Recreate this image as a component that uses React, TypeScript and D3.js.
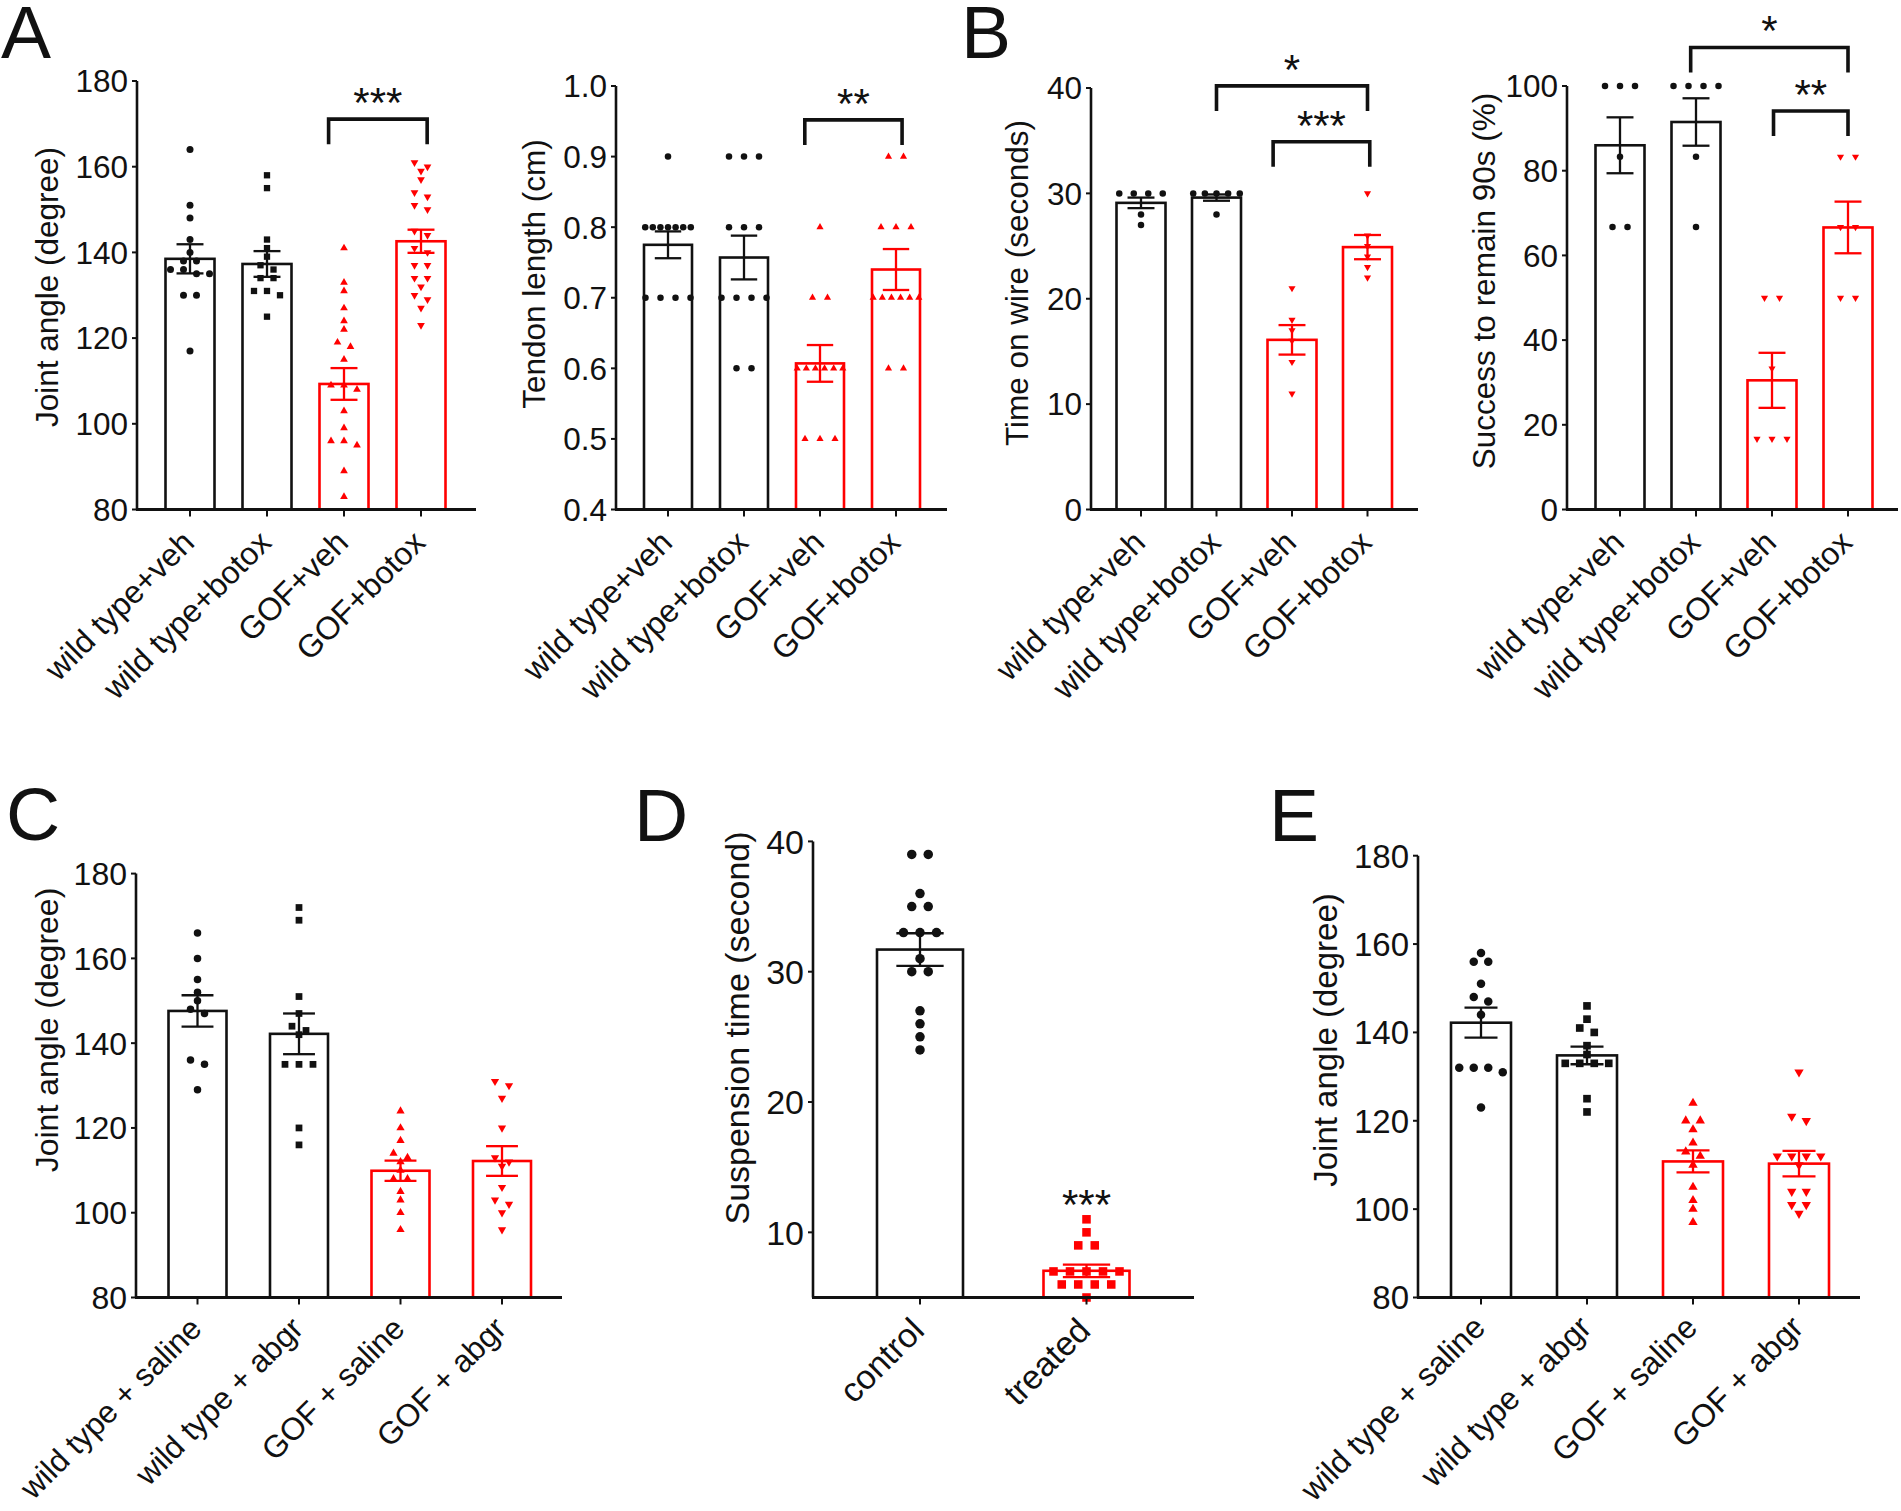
import React from "react";
import * as d3 from "d3";

// ---------------- data ----------------
const catsBotox = ["wild type+veh", "wild type+botox", "GOF+veh", "GOF+botox"];
const catsAbgr = ["wild type + saline", "wild type + abgr", "GOF + saline", "GOF + abgr"];
const catsD = ["control", "treated"];

const ticksAngle = [80, 100, 120, 140, 160, 180];
const ticksTendon = [0.4, 0.5, 0.6, 0.7, 0.8, 0.9, 1.0];
const ticksWire = [0, 10, 20, 30, 40];
const ticksSuccess = [0, 20, 40, 60, 80, 100];
const ticksSusp = [10, 20, 30, 40];

// Panel A – joint angle
const a1Points = [
  [164, 151, 148, 143, 140, 138, 138, 136, 136, 135, 135, 130, 130, 117],
  [158, 155, 143, 141, 139, 137, 136, 134, 134, 131, 131, 130, 125],
  [141, 133, 131, 127, 124, 122, 119, 118, 115, 109, 109, 108, 103, 99, 96, 96, 95, 89, 83],
  [161, 160, 159, 157, 154, 153, 151, 150, 145, 144, 141, 140, 137, 137, 134, 134, 132, 130, 129, 127, 123],
];
const a1Means = [138.5, 137.3, 109.3, 142.6];
const a1Sems = [3.4, 3.0, 3.7, 2.7];
const a1Sig = [{ from: 1.8, to: 3.08, level: 171.1, label: "***" }];

// Panel A – tendon length
const a2Points = [
  [0.9, 0.8, 0.8, 0.8, 0.8, 0.8, 0.8, 0.8, 0.7, 0.7, 0.7, 0.7],
  [0.9, 0.9, 0.9, 0.8, 0.8, 0.8, 0.7, 0.7, 0.7, 0.7, 0.6, 0.6],
  [0.8, 0.7, 0.7, 0.6, 0.6, 0.6, 0.6, 0.6, 0.6, 0.5, 0.5, 0.5],
  [0.9, 0.9, 0.8, 0.8, 0.8, 0.7, 0.7, 0.7, 0.7, 0.7, 0.7, 0.6, 0.6],
];
const a2Means = [0.775, 0.757, 0.607, 0.740];
const a2Sems = [0.019, 0.031, 0.026, 0.029];
const a2Sig = [{ from: 1.8, to: 3.08, level: 0.952, label: "**" }];

// Panel B – time on wire
const b1Points = [
  [30, 30, 30, 30, 28, 27],
  [30, 30, 30, 30, 30, 28],
  [21, 18, 17, 16, 14, 11],
  [30, 26, 25, 24, 23, 22],
];
const b1Means = [29.1, 29.6, 16.1, 24.9];
const b1Sems = [0.5, 0.3, 1.4, 1.15];
const b1Sig = [
  { from: 1, to: 3.0, level: 40.2, label: "*" },
  { from: 1.75, to: 3.03, level: 34.9, label: "***" },
];

// Panel B – success to remain 90 s
const b2Points = [
  [100, 100, 100, 83.3, 66.7, 66.7],
  [100, 100, 100, 100, 83.3, 66.7],
  [50, 50, 33.3, 16.7, 16.7, 16.7],
  [83.3, 83.3, 66.7, 66.7, 50, 50],
];
const b2Means = [86.0, 91.5, 30.5, 66.6];
const b2Sems = [6.6, 5.6, 6.5, 6.1];
const b2Sig = [
  { from: 0.93, to: 3.0, level: 109.1, label: "*" },
  { from: 2.02, to: 3.0, level: 94.1, label: "**" },
];

// Panel C
const cPoints = [
  [166, 160, 155, 152, 150, 148, 147, 136, 135, 129],
  [172, 169, 151, 147, 144, 143, 142, 135, 135, 135, 120, 116],
  [124, 120, 117, 114, 113, 112, 110, 108, 108, 105, 103, 100, 96],
  [131, 130, 127, 120, 113, 112, 111, 106, 103, 102, 100, 96],
];
const cMeans = [147.6, 142.2, 109.9, 112.2];
const cSems = [3.7, 4.8, 2.4, 3.5];

// Panel D
const dPoints = [
  [39, 39, 36, 35, 35, 33, 33, 33, 31, 30, 30, 27, 26, 25, 24],
  [11, 10, 9, 9, 7, 7, 7, 7, 7, 6, 6, 6, 6, 5],
];
const dMeans = [31.7, 7.05];
const dSems = [1.25, 0.48];
const dSig = [{ from: 1, to: 1, level: 10.85, label: "***" }];

// Panel E
const ePoints = [
  [158, 156, 156, 151, 148, 147, 144, 132, 132, 132, 131, 123],
  [146, 143, 141, 140, 137, 135, 133, 133, 133, 133, 125, 122],
  [124, 120, 120, 118, 115, 113, 112, 110, 105, 102, 100, 97],
  [131, 121, 120, 112, 112, 112, 112, 110, 104, 104, 101, 101, 99],
];
const eMeans = [142.2, 134.8, 110.8, 110.3];
const eSems = [3.4, 2.0, 2.5, 2.9];

// ---------------- styles ----------------
const BLACK = "#111";
const RED = "#ff0000";
const FONT = "'Liberation Sans', Arial, Helvetica, sans-serif";

type Shape = "circle" | "square" | "up" | "down";
type Sig = { from: number; to: number; level: number; label: string };

interface PanelCfg {
  letter?: string;
  letterX?: number;
  letterY?: number;
  cats: string[];
  points: number[][];
  means: number[];
  sems: number[];
  sig: Sig[];
  shapes: Shape[];
  colors: string[];
  domain: [number, number];
  ticks: number[];
  fmt: (v: number) => string;
  title: string;
  titleX: number;
  titleY: number;
  x0: number;
  x1: number;
  c0: number;
  step: number;
  barW: number;
  yTop: number;
  yBot: number;
  fs: number;
  labelFs: number;
  labelDy: number;
  marker: number;
  spacing: number;
}

const fmtInt = (v: number) => d3.format("d")(v);
const fmt1 = (v: number) => d3.format(".1f")(v);
const colors4 = [BLACK, BLACK, RED, RED];

const panels: PanelCfg[] = [
  {
    letter: "A", letterX: 1, letterY: 58,
    cats: catsBotox, points: a1Points, means: a1Means, sems: a1Sems, sig: a1Sig,
    shapes: ["circle", "square", "up", "down"], colors: colors4,
    domain: [80, 180], ticks: ticksAngle, fmt: fmtInt,
    title: "Joint angle (degree)", titleX: 50, titleY: 287,
    x0: 137, x1: 476, c0: 190, step: 77, barW: 49, yTop: 81, yBot: 509.5,
    fs: 31.5, labelFs: 32, labelDy: 35, marker: 7, spacing: 13,
  },
  {
    cats: catsBotox, points: a2Points, means: a2Means, sems: a2Sems, sig: a2Sig,
    shapes: ["circle", "circle", "up", "up"], colors: colors4,
    domain: [0.4, 1.0], ticks: ticksTendon, fmt: fmt1,
    title: "Tendon length (cm)", titleX: 537, titleY: 274,
    x0: 616, x1: 947, c0: 668, step: 76, barW: 48, yTop: 86, yBot: 509.5,
    fs: 31.5, labelFs: 32, labelDy: 35, marker: 6.5, spacing: 15,
  },
  {
    letter: "B", letterX: 961, letterY: 58,
    cats: catsBotox, points: b1Points, means: b1Means, sems: b1Sems, sig: b1Sig,
    shapes: ["circle", "circle", "down", "down"], colors: colors4,
    domain: [0, 40], ticks: ticksWire, fmt: fmtInt,
    title: "Time on wire (seconds)", titleX: 1020, titleY: 283,
    x0: 1091, x1: 1418, c0: 1141, step: 75.5, barW: 49, yTop: 88, yBot: 509.5,
    fs: 31.5, labelFs: 32, labelDy: 35, marker: 6.5, spacing: 14.5,
  },
  {
    cats: catsBotox, points: b2Points, means: b2Means, sems: b2Sems, sig: b2Sig,
    shapes: ["circle", "circle", "down", "down"], colors: colors4,
    domain: [0, 100], ticks: ticksSuccess, fmt: fmtInt,
    title: "Success to remain 90s (%)", titleX: 1487, titleY: 281,
    x0: 1567, x1: 1898, c0: 1620, step: 76, barW: 49, yTop: 86, yBot: 509.5,
    fs: 31.5, labelFs: 32, labelDy: 35, marker: 6.5, spacing: 15,
  },
  {
    letter: "C", letterX: 6, letterY: 840,
    cats: catsAbgr, points: cPoints, means: cMeans, sems: cSems, sig: [],
    shapes: ["circle", "square", "up", "down"], colors: colors4,
    domain: [80, 180], ticks: ticksAngle, fmt: fmtInt,
    title: "Joint angle (degree)", titleX: 50, titleY: 1030,
    x0: 136, x1: 562, c0: 197.5, step: 101.5, barW: 58, yTop: 873.6, yBot: 1297.5,
    fs: 32, labelFs: 31.5, labelDy: 33, marker: 7.5, spacing: 14,
  },
  {
    letter: "D", letterX: 634, letterY: 841,
    cats: catsD, points: dPoints, means: dMeans, sems: dSems, sig: dSig,
    shapes: ["circle", "square"], colors: [BLACK, RED],
    domain: [5, 40], ticks: ticksSusp, fmt: fmtInt,
    title: "Suspension time (second)", titleX: 740, titleY: 1028,
    x0: 813, x1: 1194, c0: 920, step: 166.5, barW: 86, yTop: 841.4, yBot: 1297.5,
    fs: 34, labelFs: 34, labelDy: 35, marker: 9.5, spacing: 16.5,
  },
  {
    letter: "E", letterX: 1269, letterY: 841,
    cats: catsAbgr, points: ePoints, means: eMeans, sems: eSems, sig: [],
    shapes: ["circle", "square", "up", "down"], colors: colors4,
    domain: [80, 180], ticks: ticksAngle, fmt: fmtInt,
    title: "Joint angle (degree)", titleX: 1328, titleY: 1040,
    x0: 1418, x1: 1860, c0: 1481, step: 106, barW: 60, yTop: 855.7, yBot: 1297.5,
    fs: 33, labelFs: 32, labelDy: 32, marker: 8.5, spacing: 14.5,
  },
];

function swarm(
  vals: number[],
  y: (v: number) => number,
  cx: number,
  marker: number,
  spacing: number,
  maxSpread: number
) {
  const pts = vals.map((v) => ({ v, py: y(v) })).sort((a, b) => a.py - b.py);
  const rows: { v: number; py: number }[][] = [];
  for (const p of pts) {
    const last = rows[rows.length - 1];
    if (last && Math.abs(p.py - last[0].py) < marker * 0.9) last.push(p);
    else rows.push([p]);
  }
  const out: { x: number; y: number }[] = [];
  for (const row of rows) {
    const k = row.length;
    const sp = k > 1 ? Math.min(spacing, maxSpread / (k - 1)) : 0;
    row.forEach((p, i) => out.push({ x: cx + (i - (k - 1) / 2) * sp, y: p.py }));
  }
  return out;
}

function Marker({ shape, x, y, s, color }: { shape: Shape; x: number; y: number; s: number; color: string }) {
  if (shape === "circle") return <circle cx={x} cy={y} r={s / 2} fill={color} />;
  if (shape === "square") {
    const a = s * 0.9;
    return <rect x={x - a / 2} y={y - a / 2} width={a} height={a} fill={color} />;
  }
  const w = s * 1.1;
  const h = w * 0.87;
  const dir = shape === "up" ? 1 : -1;
  const p = d3.path();
  p.moveTo(x, y - (dir * 2 * h) / 3);
  p.lineTo(x + w / 2, y + (dir * h) / 3);
  p.lineTo(x - w / 2, y + (dir * h) / 3);
  p.closePath();
  return <path d={p.toString()} fill={color} />;
}

function Panel({ cfg }: { cfg: PanelCfg }) {
  const n = cfg.cats.length;
  const start = cfg.c0 - cfg.step / 2;
  const pi = 1 - cfg.barW / cfg.step;
  const x = d3
    .scaleBand<string>()
    .domain(cfg.cats)
    .range([start, start + cfg.step * n])
    .paddingInner(pi)
    .paddingOuter(pi / 2);
  const y = d3.scaleLinear().domain(cfg.domain).range([cfg.yBot, cfg.yTop]);
  const center = (c: string) => (x(c) as number) + x.bandwidth() / 2;
  const posAt = (f: number) => {
    const i = Math.floor(f);
    return center(cfg.cats[i]) + (f - i) * x.step();
  };
  const capHalf = x.bandwidth() * 0.275;
  const lw = 2.6;

  return (
    <g fontFamily={FONT}>
      {cfg.letter && (
        <text x={cfg.letterX} y={cfg.letterY} fontSize={75} fill={BLACK}>
          {cfg.letter}
        </text>
      )}
      {/* bars */}
      {cfg.cats.map((c, i) => (
        <rect
          key={"bar" + c}
          x={x(c)}
          y={y(cfg.means[i])}
          width={x.bandwidth()}
          height={cfg.yBot - y(cfg.means[i])}
          fill="white"
          stroke={cfg.colors[i]}
          strokeWidth={lw}
        />
      ))}
      {/* points */}
      {cfg.cats.map((c, i) =>
        swarm(cfg.points[i], y, center(c), cfg.marker, cfg.spacing, x.bandwidth() * 0.95).map((p, j) => (
          <Marker key={c + j} shape={cfg.shapes[i]} x={p.x} y={p.y} s={cfg.marker} color={cfg.colors[i]} />
        ))
      )}
      {/* error bars */}
      {cfg.cats.map((c, i) => {
        const cx = center(c);
        const yt = y(cfg.means[i] + cfg.sems[i]);
        const yb = y(cfg.means[i] - cfg.sems[i]);
        return (
          <g key={"err" + c} stroke={cfg.colors[i]} strokeWidth={2.3}>
            <line x1={cx} x2={cx} y1={yt} y2={yb} />
            <line x1={cx - capHalf} x2={cx + capHalf} y1={yt} y2={yt} />
            <line x1={cx - capHalf} x2={cx + capHalf} y1={yb} y2={yb} />
          </g>
        );
      })}
      {/* y axis */}
      <line x1={cfg.x0} x2={cfg.x0} y1={y(cfg.domain[1])} y2={cfg.yBot} stroke={BLACK} strokeWidth={lw} />
      {cfg.ticks.map((t) => (
        <g key={"t" + t}>
          <line x1={cfg.x0 - 5} x2={cfg.x0} y1={y(t)} y2={y(t)} stroke={BLACK} strokeWidth={2} />
          <text
            x={cfg.x0 - 9}
            y={y(t)}
            dy="0.36em"
            textAnchor="end"
            fontSize={cfg.fs}
            fill={BLACK}
          >
            {cfg.fmt(t)}
          </text>
        </g>
      ))}
      {/* x axis */}
      <line x1={cfg.x0 - 1} x2={cfg.x1} y1={cfg.yBot} y2={cfg.yBot} stroke={BLACK} strokeWidth={lw + 0.4} />
      {cfg.cats.map((c) => (
        <g key={"xl" + c}>
          <line x1={center(c)} x2={center(c)} y1={cfg.yBot} y2={cfg.yBot + 7} stroke={BLACK} strokeWidth={2} />
          <text
            transform={`translate(${center(c) + 6},${cfg.yBot + cfg.labelDy}) rotate(-45)`}
            textAnchor="end"
            fontSize={cfg.labelFs}
            fill={BLACK}
          >
            {c}
          </text>
        </g>
      ))}
      {/* y title */}
      <text
        transform={`translate(${cfg.titleX},${cfg.titleY}) rotate(-90)`}
        dy="0.26em"
        textAnchor="middle"
        fontSize={cfg.fs}
        fill={BLACK}
      >
        {cfg.title}
      </text>
      {/* significance */}
      {cfg.sig.map((s, k) => {
        const xa = posAt(s.from);
        const xb = posAt(s.to);
        const yl = y(s.level);
        const drop = 25;
        return (
          <g key={"sig" + k}>
            {s.from !== s.to && (
              <path
                d={`M${xa},${yl + drop}L${xa},${yl}L${xb},${yl}L${xb},${yl + drop}`}
                fill="none"
                stroke={BLACK}
                strokeWidth={3.6}
              />
            )}
            <text x={(xa + xb) / 2} y={yl - 2} textAnchor="middle" fontSize={42} fill={BLACK}>
              {s.label}
            </text>
          </g>
        );
      })}
    </g>
  );
}

export default function App() {
  return (
    <svg
      width={1901}
      height={1511}
      viewBox="0 0 1901 1511"
      style={{ position: "absolute", left: 0, top: 0, background: "white" }}
    >
      <rect width={1901} height={1511} fill="white" />
      {panels.map((p, i) => (
        <Panel key={i} cfg={p} />
      ))}
    </svg>
  );
}
